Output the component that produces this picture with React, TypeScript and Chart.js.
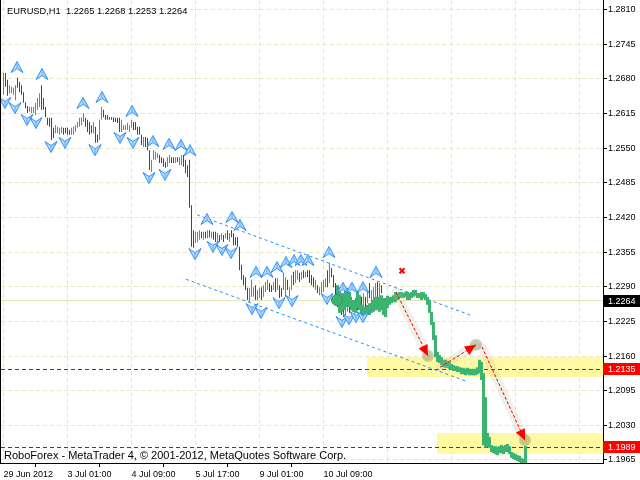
import React, { useEffect, useRef } from 'react';
import { Chart, registerables } from 'chart.js';
Chart.register(...registerables);

// ---------- axis data ----------
const yTicks = [1.2810, 1.2745, 1.2680, 1.2615, 1.2550, 1.2485, 1.2420, 1.2355, 1.2290, 1.2225, 1.2160, 1.2095, 1.2030, 1.1965];
const xTickIdx = [0, 32, 64, 96, 128, 160, 192, 224, 256, 288];
const xTickLabels = ['29 Jun 2012', '3 Jul 01:00', '4 Jul 09:00', '5 Jul 17:00', '9 Jul 01:00', '10 Jul 09:00'];
const Y_MIN = 1.195937;
const Y_MAX = 1.282782;
const X_MIN = -1.25;
const X_MAX = 299.75;

// ---------- H1 bars (index 0..190) ----------
const barHigh = [
  1.2691, 1.2691, 1.2678, 1.2668, 1.2665, 1.2663, 1.2668, 1.2682, 1.2674, 1.2668,
  1.2655, 1.2636, 1.2629, 1.2627, 1.2627, 1.2627, 1.2635, 1.2644, 1.2653, 1.2668,
  1.2644, 1.2627, 1.2607, 1.2607, 1.2607, 1.2588, 1.2593, 1.2590, 1.2588, 1.2590,
  1.2588, 1.2588, 1.2588, 1.2584, 1.2588, 1.2590, 1.2593, 1.2599, 1.2607, 1.2608,
  1.2616, 1.2607, 1.2603, 1.2599, 1.2593, 1.2599, 1.2590, 1.2575, 1.2603, 1.2627,
  1.2622, 1.2612, 1.2612, 1.2608, 1.2608, 1.2608, 1.2607, 1.2607, 1.2607, 1.2603,
  1.2593, 1.2593, 1.2597, 1.2593, 1.2603, 1.2599, 1.2599, 1.2590, 1.2590, 1.2575,
  1.2571, 1.2571, 1.2569, 1.2546, 1.2528, 1.2546, 1.2543, 1.2541, 1.2537, 1.2533,
  1.2531, 1.2524, 1.2533, 1.2537, 1.2533, 1.2533, 1.2533, 1.2533, 1.2533, 1.2537,
  1.2537, 1.2528, 1.2518, 1.2528, 1.2443, 1.2396, 1.2393, 1.2393, 1.2396, 1.2393,
  1.2393, 1.2393, 1.2396, 1.2396, 1.2393, 1.2393, 1.2393, 1.2391, 1.2387, 1.2391,
  1.2387, 1.2391, 1.2396, 1.2391, 1.2396, 1.2391, 1.2383, 1.2383, 1.2365, 1.2331,
  1.2312, 1.2308, 1.2288, 1.2288, 1.2303, 1.2289, 1.2293, 1.2284, 1.2288, 1.2289,
  1.2293, 1.2299, 1.2303, 1.2297, 1.2293, 1.2299, 1.2306, 1.2306, 1.2293, 1.2288,
  1.2316, 1.2308, 1.2303, 1.2289, 1.2312, 1.2318, 1.2321, 1.2321, 1.2316, 1.2318,
  1.2321, 1.2318, 1.2321, 1.2321, 1.2312, 1.2308, 1.2303, 1.2293, 1.2289, 1.2299,
  1.2303, 1.2306, 1.2321, 1.2335, 1.2325, 1.2312, 1.2297, 1.2278, 1.2259, 1.2256,
  1.2259, 1.2265, 1.2269, 1.2265, 1.2271, 1.2265, 1.2269, 1.2265, 1.2274, 1.2271,
  1.2278, 1.2271, 1.2280, 1.2297, 1.2284, 1.2289, 1.2297, 1.2299, 1.2297, 1.2293,
  1.2268,
];
const barLow = [
  1.2650, 1.2665, 1.2648, 1.2653, 1.2653, 1.2650, 1.2640, 1.2663, 1.2655, 1.2650,
  1.2635, 1.2625, 1.2616, 1.2618, 1.2616, 1.2616, 1.2612, 1.2622, 1.2627, 1.2622,
  1.2622, 1.2608, 1.2593, 1.2590, 1.2565, 1.2569, 1.2578, 1.2578, 1.2575, 1.2578,
  1.2575, 1.2578, 1.2575, 1.2575, 1.2575, 1.2575, 1.2580, 1.2588, 1.2590, 1.2593,
  1.2599, 1.2590, 1.2580, 1.2575, 1.2578, 1.2578, 1.2560, 1.2560, 1.2565, 1.2603,
  1.2608, 1.2603, 1.2603, 1.2603, 1.2603, 1.2599, 1.2599, 1.2597, 1.2580, 1.2580,
  1.2584, 1.2584, 1.2584, 1.2580, 1.2588, 1.2584, 1.2584, 1.2575, 1.2575, 1.2556,
  1.2552, 1.2552, 1.2546, 1.2509, 1.2505, 1.2528, 1.2528, 1.2531, 1.2522, 1.2522,
  1.2515, 1.2513, 1.2515, 1.2522, 1.2522, 1.2522, 1.2522, 1.2524, 1.2518, 1.2518,
  1.2515, 1.2503, 1.2496, 1.2438, 1.2365, 1.2363, 1.2372, 1.2374, 1.2378, 1.2381,
  1.2378, 1.2381, 1.2381, 1.2383, 1.2381, 1.2378, 1.2374, 1.2372, 1.2374, 1.2378,
  1.2374, 1.2381, 1.2378, 1.2374, 1.2383, 1.2368, 1.2368, 1.2365, 1.2321, 1.2303,
  1.2293, 1.2284, 1.2265, 1.2261, 1.2271, 1.2271, 1.2265, 1.2265, 1.2269, 1.2265,
  1.2271, 1.2280, 1.2284, 1.2280, 1.2280, 1.2284, 1.2280, 1.2284, 1.2269, 1.2271,
  1.2284, 1.2271, 1.2284, 1.2271, 1.2284, 1.2293, 1.2297, 1.2303, 1.2299, 1.2303,
  1.2306, 1.2308, 1.2308, 1.2297, 1.2293, 1.2289, 1.2284, 1.2278, 1.2274, 1.2278,
  1.2280, 1.2289, 1.2289, 1.2297, 1.2308, 1.2289, 1.2265, 1.2252, 1.2243, 1.2237,
  1.2233, 1.2237, 1.2243, 1.2241, 1.2246, 1.2243, 1.2246, 1.2246, 1.2252, 1.2252,
  1.2252, 1.2246, 1.2259, 1.2269, 1.2256, 1.2265, 1.2271, 1.2265, 1.2259, 1.2278,
  1.2253,
];
// g = bullish bar, r = bearish bar
const barDir =
  'grrggggrrr' + 'rrrggggggr' + 'rrrrrrgggg' + 'rrrrgggggg' + 'grrrrgrrgg' +
  'rrrrrrrrrg' + 'gggggrrrrr' + 'grrrggggrr' + 'rrggrrgrgg' + 'rrrrrrgggr' +
  'grgrgrrgrg' + 'rgrgrrrrrr' + 'rrrgggrggr' + 'gggrrgrgrr' + 'ggrggrggrg' +
  'rgrrrrgrgg' + 'ggrgrrrrrr' + 'rggrgrgrgr' + 'grgrgggrgr' + 'r';

// ---------- later price overlay (index 167..261) ----------
const liveStart = 167;
const liveHigh = [
  1.2293, 1.2289, 1.2278, 1.2278, 1.2284, 1.2288, 1.2280, 1.2265, 1.2265, 1.2261,
  1.2280, 1.2274, 1.2256, 1.2252, 1.2252, 1.2256, 1.2259, 1.2259, 1.2265, 1.2271,
  1.2271, 1.2271, 1.2274, 1.2269, 1.2269, 1.2273, 1.2271, 1.2271, 1.2274, 1.2280,
  1.2278, 1.2280, 1.2280, 1.2278, 1.2280, 1.2280, 1.2278, 1.2280, 1.2284, 1.2284,
  1.2278, 1.2278, 1.2280, 1.2280, 1.2276, 1.2271, 1.2265, 1.2243, 1.2224, 1.2199,
  1.2168, 1.2162, 1.2158, 1.2153, 1.2153, 1.2151, 1.2149, 1.2145, 1.2143, 1.2141,
  1.2141, 1.2139, 1.2138, 1.2138, 1.2136, 1.2138, 1.2136, 1.2136, 1.2136, 1.2136,
  1.2139, 1.2153, 1.2149, 1.2128, 1.2083, 1.2016, 1.2008, 1.1993, 1.1991, 1.1991,
  1.1989, 1.1991, 1.1993, 1.1991, 1.1993, 1.1995, 1.1991, 1.1980, 1.1978, 1.1976,
  1.1974, 1.1973, 1.1969, 1.1967, 1.1991,
];
const liveLow = [
  1.2265, 1.2241, 1.2243, 1.2246, 1.2252, 1.2256, 1.2252, 1.2246, 1.2243, 1.2241,
  1.2250, 1.2246, 1.2237, 1.2233, 1.2233, 1.2237, 1.2237, 1.2241, 1.2243, 1.2246,
  1.2246, 1.2243, 1.2246, 1.2237, 1.2233, 1.2250, 1.2256, 1.2259, 1.2261, 1.2261,
  1.2265, 1.2269, 1.2269, 1.2269, 1.2271, 1.2265, 1.2265, 1.2269, 1.2271, 1.2273,
  1.2269, 1.2269, 1.2265, 1.2269, 1.2265, 1.2256, 1.2241, 1.2218, 1.2190, 1.2158,
  1.2149, 1.2147, 1.2143, 1.2139, 1.2138, 1.2138, 1.2136, 1.2134, 1.2132, 1.2132,
  1.2130, 1.2130, 1.2126, 1.2126, 1.2124, 1.2126, 1.2124, 1.2124, 1.2124, 1.2124,
  1.2126, 1.2128, 1.2115, 1.1993, 1.1988, 1.1989, 1.1988, 1.1980, 1.1978, 1.1976,
  1.1974, 1.1978, 1.1978, 1.1976, 1.1980, 1.1980, 1.1976, 1.1969, 1.1967, 1.1965,
  1.1963, 1.1961, 1.1959, 1.1959, 1.1959,
];

// ---------- fractals ----------
const fracUpX = [6.75, 19.25, 39.75, 49.25, 64.25, 74.75, 82.75, 88.75, 93.25, 101.75, 114.25, 118.25, 126.25, 131.75, 136.75, 141.25, 145.25, 148.75, 152.25, 162.75, 169.75, 174.25, 179.75, 186.25];
const fracUpY = [1.2702, 1.2689, 1.2635, 1.2646, 1.2620, 1.2563, 1.2558, 1.2556, 1.2546, 1.2417, 1.2421, 1.2406, 1.2318, 1.2318, 1.2327, 1.2336, 1.2340, 1.2340, 1.2340, 1.2355, 1.2288, 1.2288, 1.2289, 1.2318];
const fracDnX = [0.75, 5.75, 11.75, 16.25, 23.75, 30.75, 45.75, 58.25, 64.75, 72.75, 80.75, 95.75, 104.75, 109.25, 113.75, 124.25, 128.75, 137.75, 144.25, 161.75, 169.25, 172.75, 176.25, 179.75];
const fracDnY = [1.2635, 1.2625, 1.2603, 1.2597, 1.2552, 1.2560, 1.2546, 1.2569, 1.2560, 1.2494, 1.2500, 1.2351, 1.2365, 1.2359, 1.2353, 1.2248, 1.2241, 1.2259, 1.2263, 1.2267, 1.2224, 1.2229, 1.2233, 1.2233];

// ---------- drawn objects ----------
const channelUpperX = [96.75, 234.75];
const channelUpperY = [1.2425, 1.2235];
const channelLowerX = [91.25, 231.25];
const channelLowerY = [1.2304, 1.2113];
const arrowFromX = [196.25, 218.25, 239.25];
const arrowFromY = [1.2280, 1.2139, 1.2177];
const arrowToX = [212.25, 236.25, 260.75];
const arrowToY = [1.2160, 1.2181, 1.2002];
const zoneStartX = [181.75, 216.75];
const zoneTop = [1.2158, 1.2016];
const zoneBottom = [1.2121, 1.1976];
const levelLines = [1.2135, 1.1989];
const bidPrice = 1.2264;
const crossMarkX = [199.25];
const crossMarkY = [1.2320];
const startDotX = [166.75];
const startDotY = [1.2265];
const titleText = 'EURUSD,H1  1.2265 1.2268 1.2253 1.2264';
const footerText = 'RoboForex - MetaTrader 4, \u00A9 2001-2012, MetaQuotes Software Corp.';

const RED_BAR = '#ee0000';
const GREEN_BAR = '#00d400';
const LIVE = '#3cb371';
const BLUE = '#1e90ff';
const GRID = '#e9e6c4';
const ZONE = '#fff9a4';
const LEVEL = '#e00000';
const BID = '#e8e6b4';
const FONT = 'Liberation Sans';

function makeFractal(up: boolean): HTMLCanvasElement {
  const c = document.createElement('canvas');
  c.width = 14;
  c.height = 12;
  const g = c.getContext('2d')!;
  g.save();
  if (!up) {
    g.translate(0, 12);
    g.scale(1, -1);
  }
  g.beginPath();
  g.moveTo(7, 0.5);
  g.lineTo(13, 11.5);
  g.lineTo(7, 7.5);
  g.lineTo(1, 11.5);
  g.closePath();
  const grad = g.createLinearGradient(0, 0, 14, 12);
  grad.addColorStop(0, '#e6f2ff');
  grad.addColorStop(1, '#8cc4ff');
  g.fillStyle = grad;
  g.fill();
  g.strokeStyle = '#2b8ef2';
  g.lineWidth = 1;
  g.stroke();
  g.beginPath();
  g.moveTo(7, 1.5);
  g.lineTo(7, 7.5);
  g.strokeStyle = '#5aa8ff';
  g.stroke();
  g.restore();
  return c;
}

function pts(xs: number[], ys: number[]) {
  return xs.map((x, i) => ({ x, y: ys[i] }));
}

const mt4Plugin = {
  id: 'mt4',
  afterLayout(chart: any) {
    // keep bar centres on pixel centres: 2 px per H1 bar
    const xs = chart.scales.x;
    const { left, right } = chart.chartArea;
    xs.min = (left - 3.5) / 2;
    xs.max = xs.min + (right - left) / 2;
    xs.configure();
  },
  beforeDraw(chart: any) {
    const { ctx, width, height } = chart;
    ctx.save();
    ctx.fillStyle = '#ffffff';
    ctx.fillRect(0, 0, width, height);
    ctx.restore();
  },
  beforeDatasetsDraw(chart: any) {
    const { ctx, chartArea, scales } = chart;
    const { left, right, top, bottom } = chartArea;
    const xs = scales.x;
    const ys = scales.y;
    ctx.save();
    ctx.strokeStyle = GRID;
    ctx.lineWidth = 1;
    ctx.setLineDash([4, 3]);
    ys.ticks.forEach((t: any) => {
      const py = Math.floor(ys.getPixelForValue(t.value)) + 0.5;
      ctx.beginPath();
      ctx.moveTo(left, py);
      ctx.lineTo(right, py);
      ctx.stroke();
    });
    xs.ticks.forEach((t: any) => {
      const px = Math.floor(xs.getPixelForValue(t.value)) + 0.5;
      ctx.beginPath();
      ctx.moveTo(px, top);
      ctx.lineTo(px, bottom);
      ctx.stroke();
    });
    ctx.setLineDash([]);
    ctx.fillStyle = ZONE;
    zoneStartX.forEach((zx, i) => {
      const x0 = Math.round(xs.getPixelForValue(zx));
      const y0 = Math.round(ys.getPixelForValue(zoneTop[i]));
      const y1 = Math.round(ys.getPixelForValue(zoneBottom[i]));
      ctx.fillRect(x0, y0, right - x0, y1 - y0);
    });
    ctx.strokeStyle = BID;
    const by = Math.floor(ys.getPixelForValue(bidPrice)) + 0.5;
    ctx.beginPath();
    ctx.moveTo(left, by);
    ctx.lineTo(right, by);
    ctx.stroke();
    ctx.strokeStyle = LEVEL;
    ctx.setLineDash([4, 3]);
    levelLines.forEach((p) => {
      const py = Math.floor(ys.getPixelForValue(p)) + 0.5;
      ctx.beginPath();
      ctx.moveTo(left, py);
      ctx.lineTo(right, py);
      ctx.stroke();
    });
    ctx.restore();
  },
  afterDatasetsDraw(chart: any) {
    const { ctx, scales } = chart;
    const xs = scales.x;
    const ys = scales.y;
    ctx.save();
    ctx.fillStyle = '#ff0000';
    arrowToX.forEach((tx, i) => {
      const x0 = xs.getPixelForValue(arrowFromX[i]);
      const y0 = ys.getPixelForValue(arrowFromY[i]);
      const x1 = xs.getPixelForValue(tx);
      const y1 = ys.getPixelForValue(arrowToY[i]);
      const a = Math.atan2(y1 - y0, x1 - x0);
      const L = 11;
      const W = 5;
      ctx.beginPath();
      ctx.moveTo(x1, y1);
      ctx.lineTo(x1 - L * Math.cos(a) + W * Math.sin(a), y1 - L * Math.sin(a) - W * Math.cos(a));
      ctx.lineTo(x1 - L * Math.cos(a) - W * Math.sin(a), y1 - L * Math.sin(a) + W * Math.cos(a));
      ctx.closePath();
      ctx.fill();
    });
    ctx.restore();
  },
  afterDraw(chart: any) {
    const { ctx, chartArea, scales, width } = chart;
    const ys = scales.y;
    ctx.save();
    ctx.fillStyle = '#000';
    ctx.fillRect(chartArea.left - 1, 0, 1, chartArea.bottom + 1);
    const boxes: [number, string][] = [
      [bidPrice, '#000000'],
      [levelLines[0], '#ff0000'],
      [levelLines[1], '#ff0000'],
    ];
    ctx.font = `9px "${FONT}"`;
    ctx.textBaseline = 'middle';
    ctx.textAlign = 'left';
    boxes.forEach(([p, col]) => {
      const py = Math.round(ys.getPixelForValue(p));
      ctx.fillStyle = col;
      ctx.fillRect(chartArea.right, py - 6, width - chartArea.right, 12);
      ctx.fillStyle = '#ffffff';
      ctx.fillText(p.toFixed(4), chartArea.right + 5, py + 0.5);
    });
    ctx.fillStyle = '#000';
    ctx.textBaseline = 'alphabetic';
    ctx.font = `9.3px "${FONT}"`;
    ctx.fillText(titleText, 7, 14);
    ctx.font = `11px "${FONT}"`;
    ctx.fillText(footerText, 4, 459);
    ctx.restore();
  },
};

export default function App() {
  const ref = useRef<HTMLCanvasElement>(null);
  useEffect(() => {
    const canvas = ref.current!;
    const upImg = makeFractal(true);
    const dnImg = makeFractal(false);
    const hlData = barHigh.map((h, i) => ({ x: i, y: [barLow[i], h] }));
    const hlColors = barDir.split('').map((c) => (c === 'g' ? GREEN_BAR : RED_BAR));
    const liveData = liveHigh.map((h, k) => ({ x: liveStart + k, y: [liveLow[k], h] }));
    const arrowSets = arrowToX.map((tx, i) => ({
      type: 'line' as const,
      data: [{ x: arrowFromX[i], y: arrowFromY[i] }, { x: tx, y: arrowToY[i] }],
      borderColor: '#e80000',
      borderWidth: 1,
      borderDash: [3, 2],
      pointRadius: 0,
      order: 1,
    }));
    const glowSets = arrowToX.map((tx, i) => ({
      type: 'line' as const,
      data: [{ x: arrowFromX[i], y: arrowFromY[i] }, { x: tx, y: arrowToY[i] }],
      borderColor: 'rgba(185,185,150,0.2)',
      borderWidth: 9,
      borderCapStyle: 'round' as const,
      pointRadius: [0, 6],
      pointBackgroundColor: 'rgba(140,140,90,0.4)',
      pointBorderWidth: 0,
      order: 3,
    }));
    const chart = new Chart(canvas, {
      type: 'bar',
      data: {
        datasets: [
          {
            type: 'line',
            data: pts(crossMarkX, crossMarkY),
            showLine: false,
            pointStyle: 'crossRot',
            pointRadius: 3.5,
            pointBorderColor: '#ff0000',
            pointBorderWidth: 2,
            order: 0,
          } as any,
          {
            type: 'line',
            data: pts(startDotX, startDotY),
            showLine: false,
            pointStyle: 'circle',
            pointRadius: 5.5,
            pointBackgroundColor: LIVE,
            pointBorderColor: '#2e9a5e',
            pointBorderWidth: 1,
            order: 0,
          } as any,
          ...arrowSets,
          {
            type: 'line',
            data: pts(fracUpX, fracUpY),
            showLine: false,
            pointStyle: upImg,
            pointRadius: 6,
            order: 2,
          } as any,
          {
            type: 'line',
            data: pts(fracDnX, fracDnY),
            showLine: false,
            pointStyle: dnImg,
            pointRadius: 6,
            order: 2,
          } as any,
          ...glowSets,
          {
            type: 'bar',
            data: liveData,
            backgroundColor: LIVE,
            barThickness: 3,
            grouped: false,
            inflateAmount: 0,
            order: 4,
          } as any,
          {
            type: 'bar',
            data: hlData,
            backgroundColor: hlColors,
            barThickness: 1,
            grouped: false,
            inflateAmount: 0,
            order: 5,
          } as any,
          {
            type: 'line',
            data: pts(channelUpperX, channelUpperY),
            borderColor: BLUE,
            borderWidth: 1,
            borderDash: [3, 3],
            pointRadius: 0,
            order: 6,
          } as any,
          {
            type: 'line',
            data: pts(channelLowerX, channelLowerY),
            borderColor: BLUE,
            borderWidth: 1,
            borderDash: [3, 3],
            pointRadius: 0,
            order: 6,
          } as any,
        ],
      },
      options: {
        responsive: false,
        maintainAspectRatio: false,
        devicePixelRatio: 1,
        animation: false,
        events: [],
        layout: { autoPadding: false, padding: { left: 1, right: 0, top: 0, bottom: 0 } },
        plugins: { legend: { display: false }, tooltip: { enabled: false } },
        scales: {
          x: {
            type: 'linear',
            min: X_MIN,
            max: X_MAX,
            offset: false,
            afterBuildTicks: (s: any) => {
              s.ticks = xTickIdx.map((v) => ({ value: v }));
            },
            afterFit: (s: any) => {
              s.height = 17;
              s.paddingLeft = 0;
              s.paddingRight = 0;
            },
            ticks: {
              autoSkip: false,
              maxRotation: 0,
              minRotation: 0,
              align: 'start',
              padding: 2,
              color: '#000',
              font: { family: FONT, size: 9 },
              callback: (_v: any, idx: number) => xTickLabels[idx] ?? '',
            },
            grid: {
              drawOnChartArea: false,
              drawTicks: true,
              tickLength: 4,
              tickColor: (c: any) => (c.index < xTickLabels.length ? '#000' : 'rgba(0,0,0,0)'),
            },
            border: { display: true, color: '#000', width: 1 },
          } as any,
          y: {
            type: 'linear',
            position: 'right',
            min: Y_MIN,
            max: Y_MAX,
            stacked: false,
            afterBuildTicks: (s: any) => {
              s.ticks = yTicks.map((v) => ({ value: v }));
            },
            afterFit: (s: any) => {
              s.width = 37;
              s.paddingTop = 0;
              s.paddingBottom = 0;
            },
            ticks: {
              autoSkip: false,
              padding: 1,
              color: '#000',
              font: { family: FONT, size: 9 },
              callback: (v: any) => Number(v).toFixed(4),
            },
            grid: { drawOnChartArea: false, drawTicks: true, tickLength: 4, tickColor: '#000' },
            border: { display: true, color: '#000', width: 1 },
          } as any,
        },
      },
      plugins: [mt4Plugin],
    });
    return () => chart.destroy();
  }, []);
  return (
    <div style={{ position: 'fixed', left: 0, top: 0, width: 640, height: 480, background: '#fff' }}>
      <canvas ref={ref} width={640} height={480} style={{ display: 'block', width: 640, height: 480 }} />
    </div>
  );
}
